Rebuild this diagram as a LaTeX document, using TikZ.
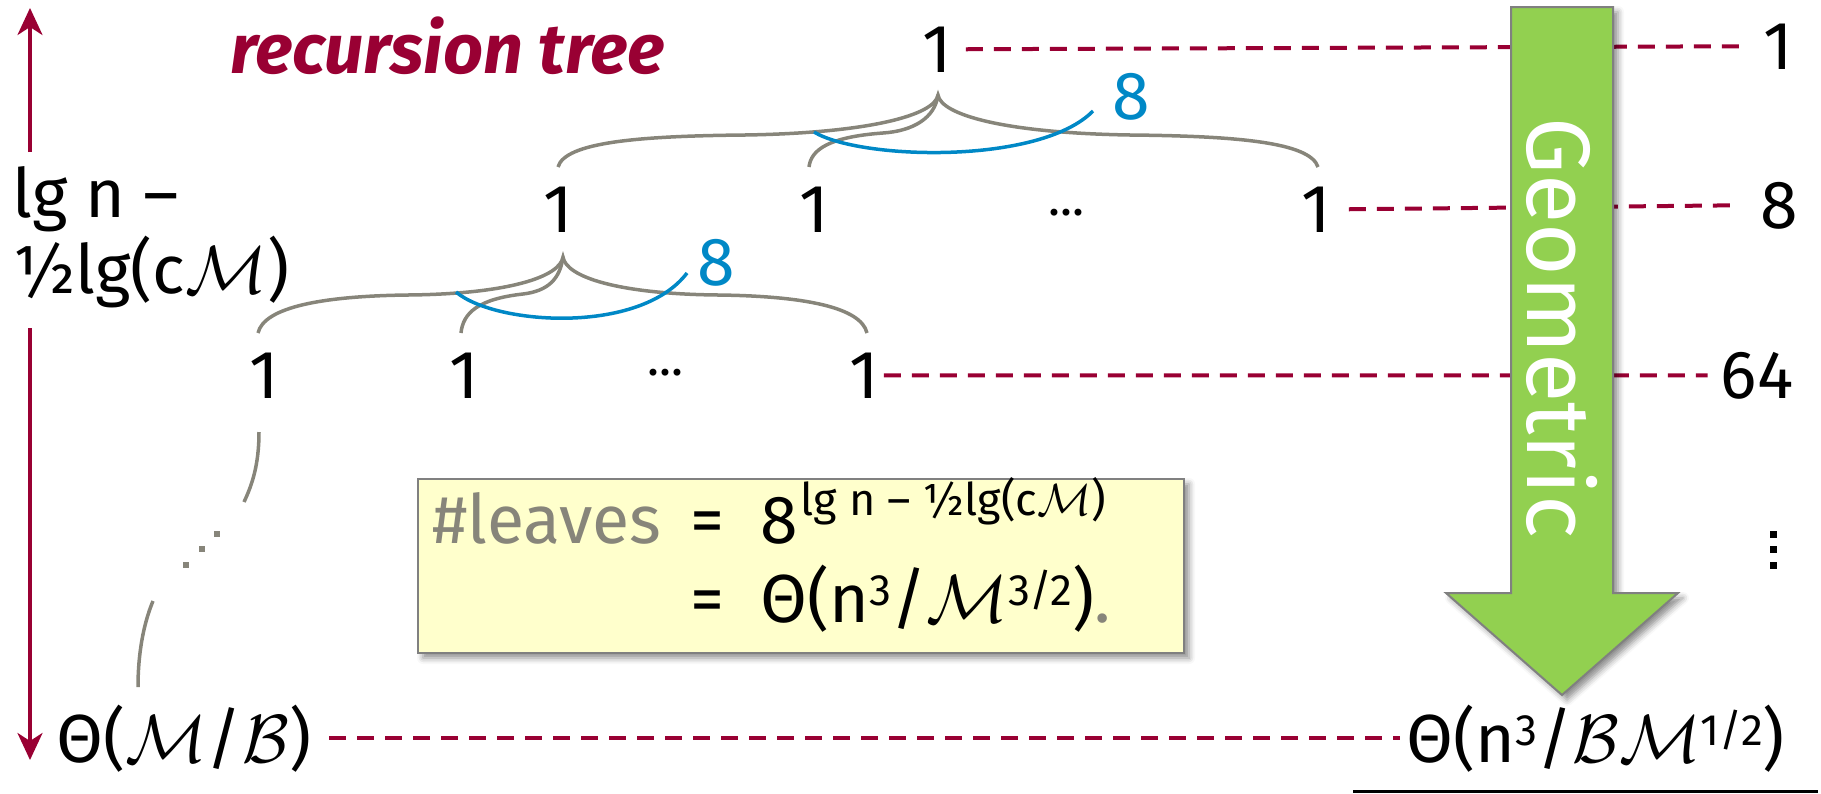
\documentclass[tikz,border=0pt]{standalone}
\usepackage{fontspec}
\setmainfont{Fira Sans}
\DeclareFontShape{OMS}{cmsy}{m}{n}{<->cmsy10}{}
\usetikzlibrary{arrows.meta,shadows.blur}
\definecolor{crim}{RGB}{153,0,51}
\definecolor{tblue}{RGB}{0,136,198}
\definecolor{tgrey}{RGB}{135,133,122}
\definecolor{agreen}{RGB}{146,208,80}
\definecolor{byellow}{RGB}{255,255,204}
\definecolor{bord}{RGB}{128,128,128}
\newcommand{\Mc}{\ensuremath{\mathcal{M}}}
\newcommand{\Bc}{\ensuremath{\mathcal{B}}}
\newcommand{\raisedtxt}[3]{\raisebox{#1}{\fontsize{#2}{#2}\selectfont #3}}
\begin{document}
\begin{tikzpicture}[x=1pt,y=-1pt,
  txt/.style={font=\fontsize{68}{80}\selectfont,inner sep=0pt},
  dotsty/.style={font=\fontsize{50}{60}\selectfont,inner sep=0pt},
  lvl/.style={draw=crim,line width=4pt,dash pattern=on 17pt off 11pt},
  branch/.style={draw=tgrey,line width=3.5pt},
  fan/.style={draw=tblue,line width=3.5pt},
  depth/.style={draw=crim,line width=3.5pt,-{Stealth[length=27pt,width=25pt,inset=8pt]}},
  shad/.style={blur shadow={shadow xshift=5pt,shadow yshift=-5pt,shadow blur radius=6pt,shadow opacity=45}}
]
\useasboundingbox (0,0) rectangle (1821,793);

% title
\node[font=\fontsize{70}{80}\selectfont\bfseries\itshape,text=crim,anchor=base west,inner sep=0pt] (title) at (230,73) {recursion tree};

% tree nodes
\node[txt,anchor=base] (r0) at (937,72) {1};
\node[txt,anchor=base] (a1) at (558,232) {1};
\node[txt,anchor=base] (a2) at (814,232) {1};
\node[dotsty] (ad) at (1066,213) {...};
\node[txt,anchor=base] (a3) at (1316,232) {1};
\node[txt,anchor=base] (b1) at (264,398) {1};
\node[txt,anchor=base] (b2) at (464,398) {1};
\node[dotsty] (bd) at (665,373) {...};
\node[txt,anchor=base] (b3) at (864,398) {1};

% right column
\node[txt,anchor=base] (c0) at (1778,69) {1};
\node[txt,anchor=base] (c1) at (1779,228) {8};
\node[txt,anchor=base] (c2) at (1757,398) {64};
\foreach \yy in {534,549,565} \fill (1773,\yy) +(-3.5,-3.5) rectangle +(3.5,3.5);

% left labels
\node[txt,anchor=base west] (lh1) at (12,217) {lg n –};
\node[txt,anchor=base west] (lh2) at (12,293) {½lg(c\Mc)};
\node[txt,anchor=base west] (bl) at (56,762) {Θ(\Mc/\Bc)};
\node[txt,anchor=base west] (br) at (1406,762) {Θ(n\raisedtxt{17pt}{44}{3}/\Bc\Mc\raisedtxt{17pt}{44}{1/2})};

% blue fan-out labels
\node[txt,text=tblue,anchor=base] (e1) at (1131,119) {8};
\node[txt,text=tblue,anchor=base] (e2) at (716,285) {8};

% braces
\begin{scope}[shift={(938,95)}]
  \draw[branch] (-380,72) .. controls (-373,47) and (-298,41) .. (-193,40) .. controls (-68,38) and (-3,20) .. (0,0)
     .. controls (3,20) and (67,38) .. (192,40) .. controls (297,41) and (372,47) .. (380,72);
  \draw[branch] (0,0) .. controls (-3,23) and (-25,36) .. (-55,38) .. controls (-110,42) and (-127,55) .. (-129,72);
\end{scope}
\begin{scope}[shift={(563,257)}]
  \draw[branch] (-305,76) .. controls (-299,50) and (-240,39) .. (-155,38) .. controls (-55,37) and (-3,20) .. (0,0)
     .. controls (3,20) and (55,37) .. (155,38) .. controls (240,39) and (298,50) .. (304,76);
  \draw[branch] (0,0) .. controls (-3,22) and (-15,34) .. (-40,37) .. controls (-85,42) and (-100,56) .. (-102,76);
\end{scope}
\draw[fan] (814,132) .. controls (860,160) and (1040,165) .. (1093,111);
\draw[fan] (456,292) .. controls (495,325) and (640,335) .. (687,273);

% descent to leaves
\draw[branch] (259,432) .. controls (259,465) and (252,485) .. (244,502);
\foreach \px/\py in {217/534,202/549,186/565} \fill[tgrey] (\px,\py) +(-3,-3) rectangle +(3,3);
\draw[branch] (153,601) .. controls (143,625) and (138,655) .. (138,687);

% level dashed lines
\draw[lvl] ([xshift=14pt]r0.east) -- ([xshift=-20pt]c0.west);
\draw[lvl] ([xshift=18pt]a3.east) -- ([xshift=-26pt]c1.west);
\draw[lvl] ([xshift=5pt]b3.east) -- ([xshift=-13pt]c2.west);
\draw[lvl] ([xshift=18pt]bl.east) -- ([xshift=-6pt]br.west);

% depth arrows
\coordinate (ua) at (30,152);
\coordinate (ut) at (30,8);
\coordinate (da) at (30,328);
\coordinate (dt) at (30,760);
\draw[depth] (ua) -- (ut);
\draw[depth] (da) -- (dt);

% green arrow
\path[fill=agreen,draw=bord,line width=2pt,shad]
  (1511,7) -- (1613,7) -- (1613,593) -- (1678,593) -- (1562,695) -- (1446,593) -- (1511,593) -- cycle;
\node[font=\fontsize{90}{100}\selectfont,text=white,rotate=-90,inner sep=0pt] (geo) at (1562,328) {Geometric};

% yellow box
\node[draw=bord,line width=2pt,fill=byellow,minimum width=766pt,minimum height=174pt,inner sep=0pt,shad] (box) at (801,566) {};
\node[txt,text=tgrey,anchor=base west] (lv) at (432,543) {\#leaves};
\node[txt,anchor=base west] (eq1) at (690,543) {=\hspace{36pt}8\hspace{3pt}\raisedtxt{28pt}{45}{lg n – ½lg(c\Mc)}};
\node[txt,anchor=base west] (eq2) at (690,622) {=\hspace{36pt}Θ(n\raisedtxt{17pt}{44}{3}/\Mc\raisedtxt{17pt}{44}{3/2})\textcolor{tgrey}{.}};

% bottom rule
\coordinate (ul) at (1353,791.5);
\coordinate (ur) at (1818,791.5);
\draw[line width=3pt] (ul) -- (ur);
\end{tikzpicture}
\end{document}
